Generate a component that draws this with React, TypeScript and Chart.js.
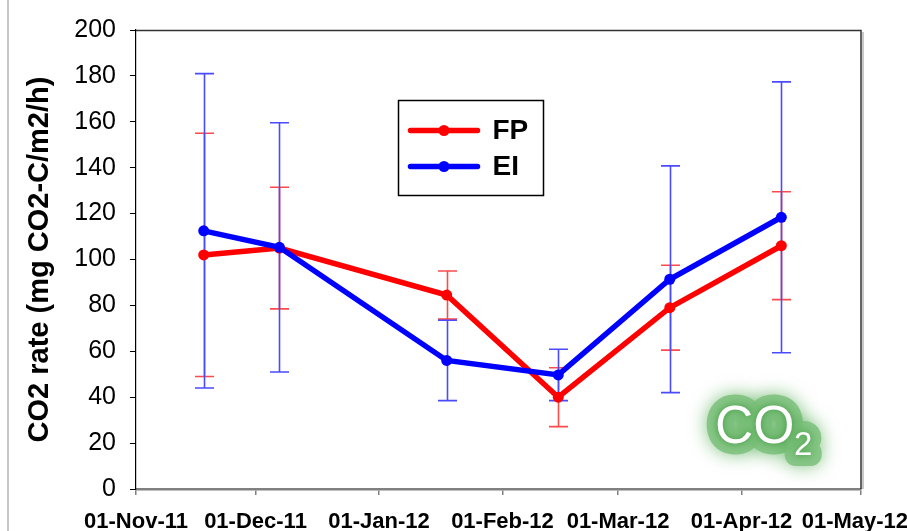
import React, { useEffect, useRef } from 'react';
import { Chart, registerables } from 'chart.js';

Chart.register(...registerables);

// ---- data ----
const seriesNames = ['FP', 'EI'];
const seriesColors = ['#ff0000', '#0000ff'];
const errorColors = ['#ff4a4a', '#4a4aff'];
const sampleDates = ['2011-11-18', '2011-12-07', '2012-01-18', '2012-02-15', '2012-03-14', '2012-04-11'];
const fpMean = [102, 105, 84.5, 40, 79, 106];
const fpErr = [53, 26.5, 10.5, 12.8, 18.5, 23.5];
const eiMean = [112.5, 105.3, 56, 49.7, 91.4, 118.4];
const eiErr = [68.5, 54.3, 17.5, 11.2, 49.4, 59];
const tickDates = ['2011-11-01', '2011-12-01', '2012-01-01', '2012-02-01', '2012-03-01', '2012-04-01', '2012-05-01'];
const tickLabels = ['01-Nov-11', '01-Dec-11', '01-Jan-12', '01-Feb-12', '01-Mar-12', '01-Apr-12', '01-May-12'];
const yTitle = 'CO2 rate (mg CO2-C/m2/h)';

const DAY = 86400000;
const origin = Date.parse(tickDates[0]);
const dayOf = (s: string) => Math.round((Date.parse(s) - origin) / DAY);

const errorBarPlugin = {
  id: 'errorBars',
  beforeDatasetsDraw(chart: any) {
    const { ctx } = chart;
    const xs = chart.scales.x;
    const ys = chart.scales.y;
    ctx.save();
    chart.data.datasets.forEach((ds: any) => {
      ctx.strokeStyle = ds.errorColor;
      ctx.lineWidth = 1.6;
      ds.data.forEach((pt: any, j: number) => {
        const e = ds.errors[j];
        const px = Math.round(xs.getPixelForValue(pt.x)) + 0.5;
        const t = ys.getPixelForValue(pt.y + e);
        const b = ys.getPixelForValue(pt.y - e);
        ctx.beginPath();
        ctx.moveTo(px, t);
        ctx.lineTo(px, b);
        ctx.moveTo(px - 9.5, t);
        ctx.lineTo(px + 9.5, t);
        ctx.moveTo(px - 9.5, b);
        ctx.lineTo(px + 9.5, b);
        ctx.stroke();
      });
    });
    ctx.restore();
  },
};

const decorPlugin = {
  id: 'decor',
  beforeDatasetsDraw(chart: any) {
    const { ctx, chartArea } = chart;
    // CO2 glow logo
    ctx.save();
    const bx = chartArea.right - 146;
    const by = chartArea.bottom - 46;
    ctx.textBaseline = 'alphabetic';
    ctx.textAlign = 'left';
    ctx.lineJoin = 'round';
    ctx.shadowColor = 'rgba(80,170,80,0.9)';
    ctx.shadowBlur = 18;
    ctx.strokeStyle = 'rgba(120,190,120,0.8)';
    ctx.lineWidth = 22;
    ctx.font = '53px "Liberation Sans", Arial, sans-serif';
    ctx.strokeText('CO', bx, by);
    ctx.font = '33px "Liberation Sans", Arial, sans-serif';
    ctx.strokeText('2', bx + 79, by + 12);
    ctx.shadowBlur = 6;
    ctx.shadowColor = 'rgba(60,150,60,0.9)';
    ctx.fillStyle = '#ffffff';
    ctx.font = '53px "Liberation Sans", Arial, sans-serif';
    ctx.fillText('CO', bx, by);
    ctx.font = '33px "Liberation Sans", Arial, sans-serif';
    ctx.fillText('2', bx + 79, by + 12);
    ctx.restore();
  },
  afterDraw(chart: any) {
    const { ctx, chartArea } = chart;
    ctx.save();
    // slide edge line
    ctx.strokeStyle = '#b4b4b4';
    ctx.lineWidth = 1.5;
    ctx.beginPath();
    ctx.moveTo(8, 0);
    ctx.lineTo(8, chart.height);
    ctx.stroke();
    // top and right frame
    ctx.strokeStyle = '#c8c8c8';
    ctx.lineWidth = 2;
    ctx.beginPath();
    ctx.moveTo(chartArea.right + 2, chartArea.top + 2);
    ctx.lineTo(chartArea.right + 2, chartArea.bottom);
    ctx.stroke();
    ctx.strokeStyle = '#333333';
    ctx.lineWidth = 1.5;
    ctx.beginPath();
    ctx.moveTo(chartArea.left, chartArea.top + 0.5);
    ctx.lineTo(chartArea.right, chartArea.top + 0.5);
    ctx.lineTo(chartArea.right, chartArea.bottom);
    ctx.stroke();
    // legend
    const lx = 398.5, ly = 100.5, lw = 145, lh = 95;
    ctx.fillStyle = '#ffffff';
    ctx.fillRect(lx, ly, lw, lh);
    ctx.strokeStyle = '#000000';
    ctx.lineWidth = 1.5;
    ctx.strokeRect(lx, ly, lw, lh);
    chart.data.datasets.forEach((ds: any, i: number) => {
      const cy = ly + 30 + i * 36;
      ctx.strokeStyle = ds.borderColor;
      ctx.lineWidth = 5.5;
      ctx.lineCap = 'round';
      ctx.beginPath();
      ctx.moveTo(lx + 12, cy);
      ctx.lineTo(lx + 79, cy);
      ctx.stroke();
      ctx.fillStyle = ds.borderColor;
      ctx.beginPath();
      ctx.arc(lx + 45.5, cy, 5.5, 0, Math.PI * 2);
      ctx.fill();
      ctx.fillStyle = '#000000';
      ctx.font = 'bold 28px "Liberation Sans", Arial, sans-serif';
      ctx.textAlign = 'left';
      ctx.textBaseline = 'middle';
      ctx.fillText(ds.label, lx + 94, cy + 1);
    });
    ctx.restore();
  },
};

export default function App() {
  const ref = useRef<HTMLCanvasElement | null>(null);
  useEffect(() => {
    if (!ref.current) return;
    const xVals = sampleDates.map(dayOf);
    const means = [fpMean, eiMean];
    const errs = [fpErr, eiErr];
    const datasets = seriesNames.map((name, i) => ({
      label: name,
      data: xVals.map((x, j) => ({ x, y: means[i][j] })),
      errors: errs[i],
      errorColor: errorColors[i],
      borderColor: seriesColors[i],
      backgroundColor: seriesColors[i],
      borderWidth: 5.5,
      pointRadius: 5.5,
      pointBorderWidth: 0,
      pointBackgroundColor: seriesColors[i],
      tension: 0,
      order: seriesNames.length - i,
    }));
    const tickDays = tickDates.map(dayOf);
    const chart = new Chart(ref.current, {
      type: 'line',
      data: { datasets } as any,
      plugins: [errorBarPlugin, decorPlugin],
      options: {
        animation: false,
        responsive: false,
        layout: { padding: { top: 30, right: 46, left: 0, bottom: 0 } },
        plugins: { legend: { display: false }, tooltip: { enabled: false } },
        scales: {
          x: {
            type: 'linear',
            min: tickDays[0],
            max: tickDays[tickDays.length - 1],
            afterBuildTicks: (scale: any) => {
              scale.ticks = tickDays.map((v) => ({ value: v }));
            },
            afterFit: (scale: any) => {
              scale.height = 42;
              scale.paddingLeft = 0;
              scale.paddingRight = 0;
            },
            ticks: {
              autoSkip: false,
              maxRotation: 0,
              minRotation: 0,
              padding: 14,
              color: '#000000',
              font: { family: '"Liberation Sans Narrow", "Arial Narrow", Arial, sans-serif', size: 22, weight: 'bold' },
              callback: (_v: any, idx: number) =>
                idx === tickLabels.length - 1 ? tickLabels[idx] + '  ' : tickLabels[idx],
            },
            grid: { drawOnChartArea: false, drawTicks: true, tickLength: 6, color: '#808080', lineWidth: 1.5 },
            border: { display: true, color: '#808080', width: 2.5 },
          },
          y: {
            min: 0,
            max: 200,
            afterFit: (scale: any) => {
              scale.width = 136;
            },
            ticks: {
              stepSize: 20,
              padding: 14,
              color: '#000000',
              font: { family: '"Liberation Sans", Arial, sans-serif', size: 25 },
            },
            grid: { drawOnChartArea: false, drawTicks: true, tickLength: 6, color: '#000000', lineWidth: 1 },
            border: { display: true, color: '#000000', width: 1.2 },
            title: {
              display: true,
              text: yTitle,
              color: '#000000',
              padding: { top: 23, bottom: 0 },
              font: { family: '"Liberation Sans", Arial, sans-serif', size: 29, weight: 'bold', lineHeight: 1.2 },
            },
          },
        },
      } as any,
    });
    return () => chart.destroy();
  }, []);
  return (
    <div style={{ position: 'fixed', left: 0, top: 0, width: 907, height: 531, background: '#ffffff', overflow: 'hidden' }}>
      <canvas ref={ref} width={907} height={531} style={{ display: 'block', width: 907, height: 531 }} />
    </div>
  );
}
